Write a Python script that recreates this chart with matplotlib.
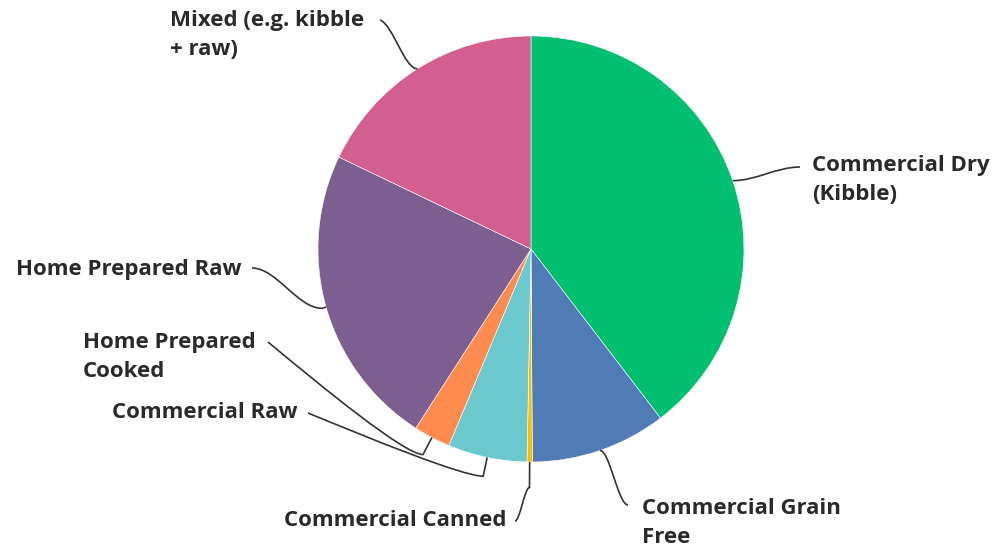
import numpy as np
import matplotlib.pyplot as plt
from matplotlib.path import Path
from matplotlib.patches import PathPatch

labels = ['Commercial Dry\n(Kibble)', 'Commercial Grain\nFree', 'Commercial Canned',
          'Commercial Raw', 'Home Prepared\nCooked', 'Home Prepared Raw',
          'Mixed (e.g. kibble\n+ raw)']
shares = [39.6, 10.3, 0.4, 6.0, 2.8, 23.0, 17.9]
colors = ['#00BF6F', '#507CB6', '#F9BE00', '#6BC8CD', '#FF8B4F', '#7D5E90', '#D25F90']

# label placement in pixels: (x, y, ha) and where the leader meets the text
label_pos = [(812, 180, 'left'), (642, 523, 'left'), (507, 521, 'right'),
             (297, 413, 'right'), (83, 357, 'left'), (241, 270, 'right'),
             (170, 35, 'left')]
leader_end = [(800, 167), (628, 505), (515, 521), (308, 413), (268, 342), (252, 268), (380, 20)]
elbow = [1.0, 1.0, 1.12, 1.09, 1.09, 1.02, 1.0]
ease = [0.35, 0.35, 0.35, 0.12, 0.12, 0.35, 0.35]   # how soon the curve leaves the elbow
bend = [0.0, 0.0, 0.0, 0.4, 0.4, 0.0, 0.1]

W, H = 996, 547
cx, cy, r = 531, 547 - 249, 213

fig = plt.figure(figsize=(9.96, 5.47), dpi=100)
ax = fig.add_axes([0, 0, 1, 1])

wedges, _ = ax.pie(shares, colors=colors, startangle=90, counterclock=False,
                   center=(cx, cy), radius=r, frame=True,
                   wedgeprops=dict(linewidth=0.4, edgecolor='white'))
ax.set_xlim(0, W)
ax.set_ylim(0, H)
ax.axis('off')

txt = dict(fontsize=16, fontweight='bold', color='#2a2a2a', family=['Open Sans', 'DejaVu Sans'])

for i, w in enumerate(wedges):
    mid = np.deg2rad((w.theta1 + w.theta2) / 2)
    k = elbow[i]
    p0 = (cx + r * np.cos(mid), cy + r * np.sin(mid))
    p1 = (cx + k * r * np.cos(mid), cy + k * r * np.sin(mid))
    ex, ey = leader_end[i]
    end = (ex, H - ey)
    dx = end[0] - p1[0]
    dy = end[1] - p1[1]
    c1 = (p1[0] + ease[i] * dx, p1[1])
    c2 = (end[0] - 0.35 * dx, end[1] - bend[i] * dy)
    path = Path([p0, p1, c1, c2, end],
                [Path.MOVETO, Path.LINETO, Path.CURVE4, Path.CURVE4, Path.CURVE4])
    ax.add_patch(PathPatch(path, fill=False, edgecolor='#333333', linewidth=1.2))
    tx, ty, ha = label_pos[i]
    ax.text(tx, H - ty, labels[i], ha=ha, va='center', multialignment='left',
            linespacing=1.55, **txt)

plt.savefig('out.png', dpi=100)
